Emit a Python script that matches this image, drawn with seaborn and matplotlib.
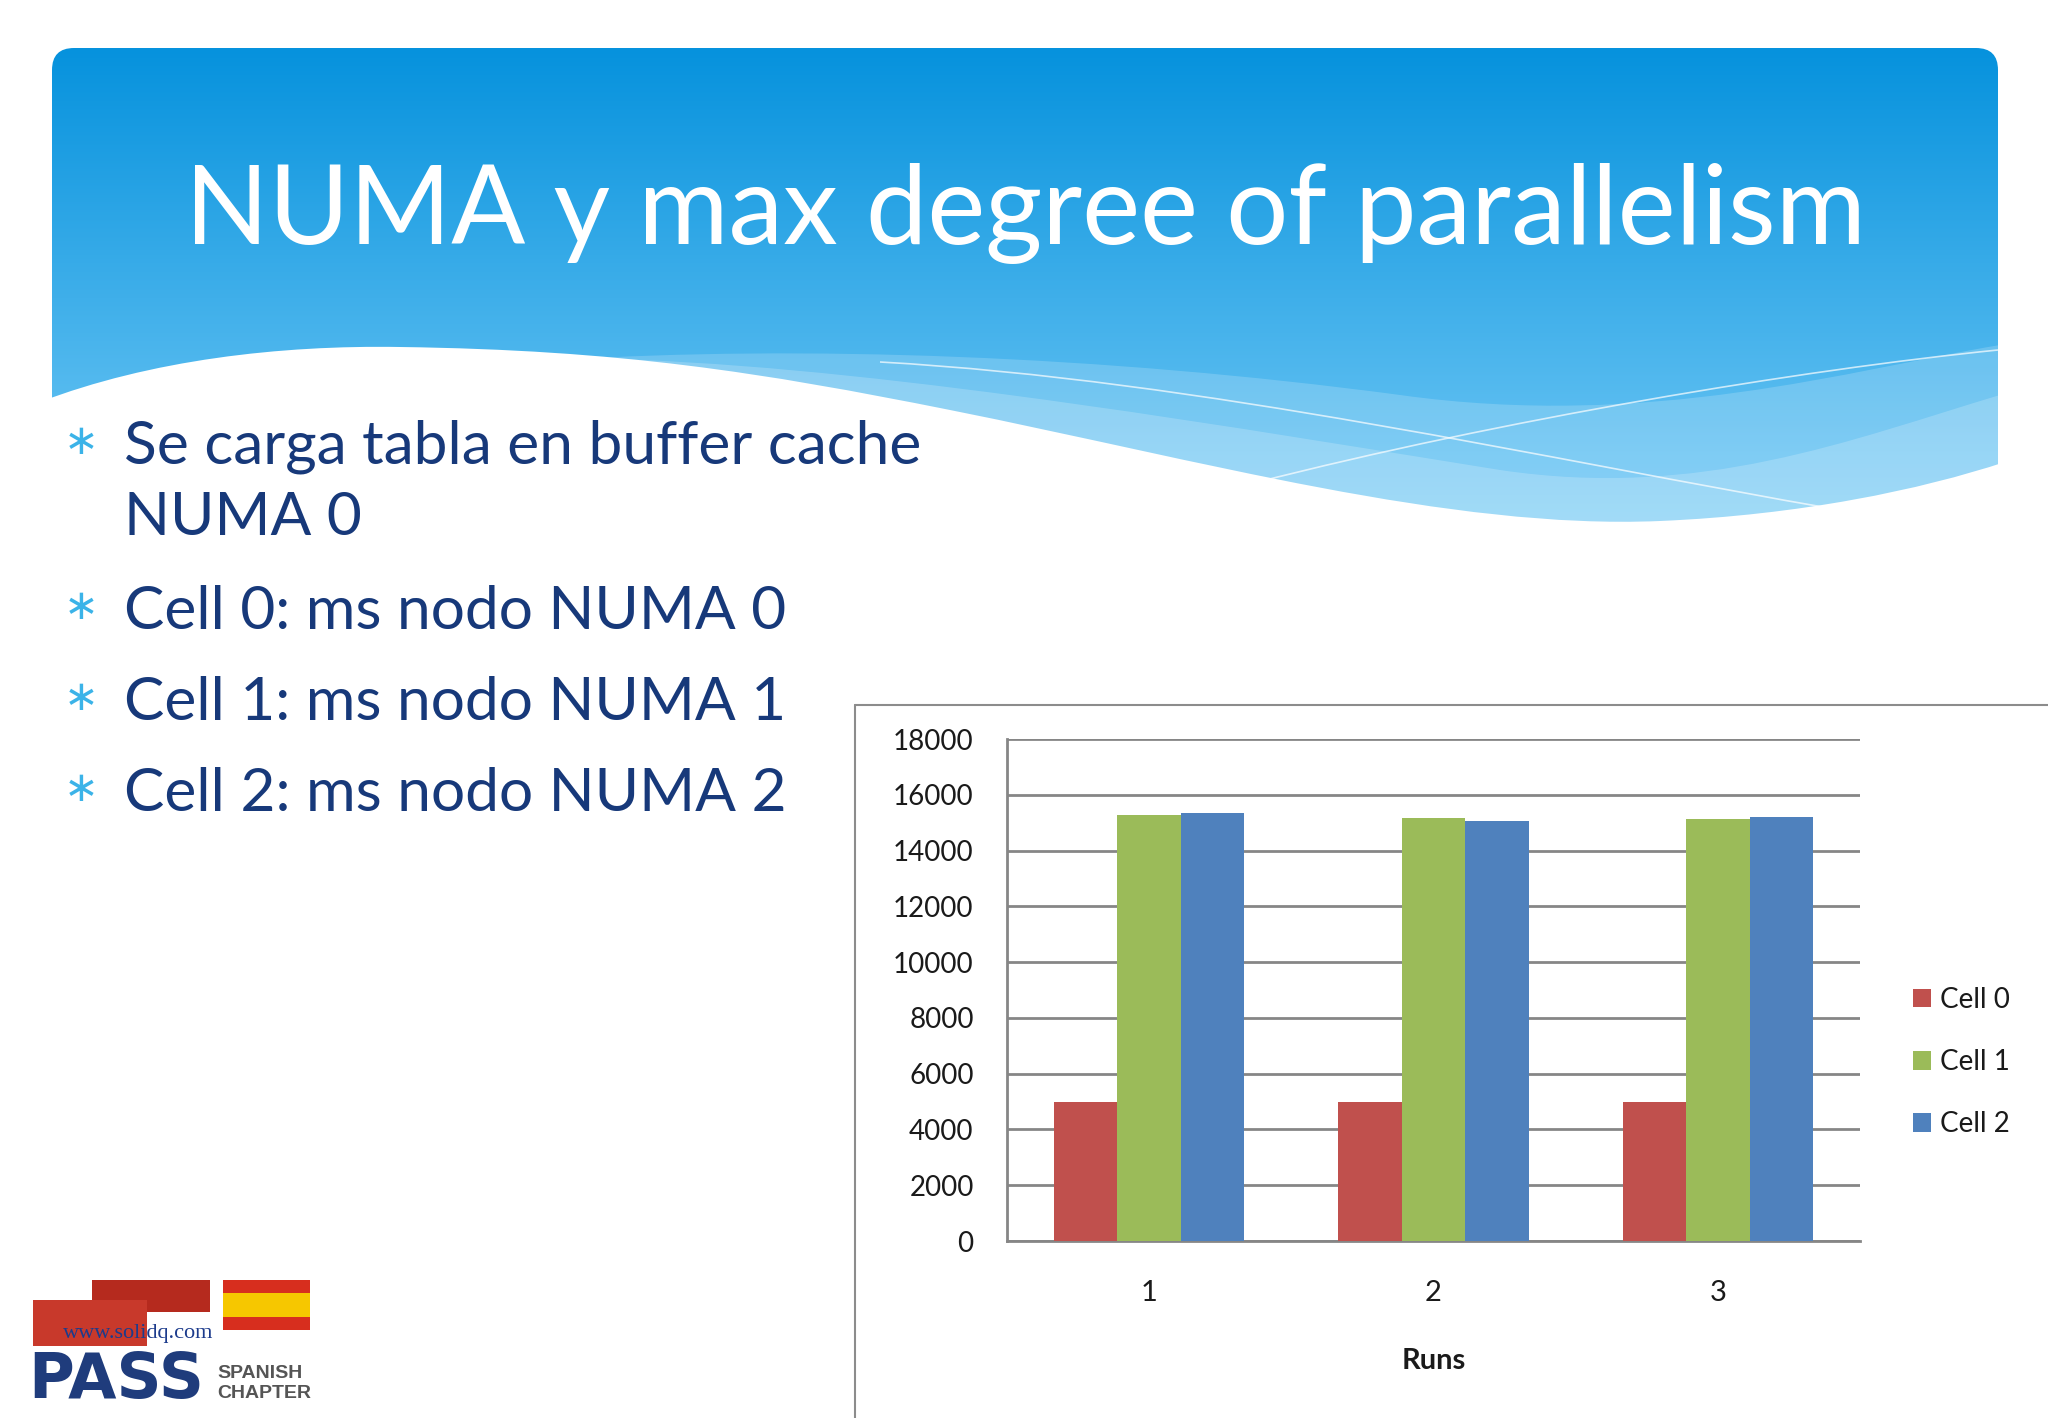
import numpy as np
import pandas as pd
import matplotlib
matplotlib.use("Agg")
import matplotlib.pyplot as plt
from matplotlib.path import Path
from matplotlib.patches import PathPatch, Rectangle, FancyBboxPatch
import seaborn as sns

# ---------------- data ----------------
runs = ["1", "2", "3"]
series_names = ["Cell 0", "Cell 1", "Cell 2"]
cell0 = [5000, 5000, 5000]
cell1 = [15280, 15170, 15120]
cell2 = [15350, 15050, 15190]
y_ticks = [0, 2000, 4000, 6000, 8000, 10000, 12000, 14000, 16000, 18000]
x_label = "Runs"
title = "NUMA y max degree of parallelism"
bullets = [
    ("Se carga tabla en buffer cache", True),
    ("NUMA 0", False),
    ("Cell 0: ms nodo NUMA 0", True),
    ("Cell 1: ms nodo NUMA 1", True),
    ("Cell 2: ms nodo NUMA 2", True),
]
colors = ["#C0504D", "#9BBB59", "#4F81BD"]

df = pd.DataFrame({
    "Runs": runs * 3,
    "Cell": [series_names[0]] * 3 + [series_names[1]] * 3 + [series_names[2]] * 3,
    "Value": cell0 + cell1 + cell2,
})

sns.set_theme(style="white")
plt.rcParams['font.family'] = ['Lato', 'DejaVu Sans']

W, H = 2048, 1418
fig = plt.figure(figsize=(W / 100, H / 100), dpi=100)
fig.patch.set_facecolor("white")

# ---------------- slide background ----------------
bg = fig.add_axes([0, 0, 1, 1], zorder=0)
bg.set_xlim(0, W)
bg.set_ylim(H, 0)
bg.axis("off")

top_c = np.array([6, 146, 221]) / 255
bot_c = np.array([120, 204, 247]) / 255
t = np.linspace(0, 1, 256)[:, None]
grad = (top_c[None, :] * (1 - t) + bot_c[None, :] * t)[:, None, :]
hdr = FancyBboxPatch((52, 48), 1946, 500, boxstyle="round,pad=0,rounding_size=22",
                     transform=bg.transData, facecolor="none", edgecolor="none")
bg.add_patch(hdr)
im = bg.imshow(grad, extent=[52, 1998, 548, 48], aspect="auto", origin="upper", zorder=1)
im.set_clip_path(hdr)

def bez(pts_codes):
    verts = [p for p, c in pts_codes]
    codes = [c for p, c in pts_codes]
    return Path(verts, codes)

M, C4, L, CL = Path.MOVETO, Path.CURVE4, Path.LINETO, Path.CLOSEPOLY

# light translucent bands
band1 = bez([
    ((560, 360), M),
    ((800, 345), C4), ((1100, 355), C4), ((1400, 395), C4),
    ((1650, 430), C4), ((1850, 370), C4), ((2000, 345), C4),
    ((2000, 560), L), ((560, 560), L), ((560, 360), CL),
])
bg.add_patch(PathPatch(band1, facecolor="white", edgecolor="none", alpha=0.18, zorder=2))
band2 = bez([
    ((640, 360), M),
    ((900, 370), C4), ((1250, 430), C4), ((1500, 470), C4),
    ((1700, 500), C4), ((1850, 440), C4), ((2000, 395), C4),
    ((2000, 560), L), ((640, 560), L), ((640, 360), CL),
])
bg.add_patch(PathPatch(band2, facecolor="white", edgecolor="none", alpha=0.2, zorder=2))

# white wave region
wave = bez([
    ((40, 402), M),
    ((150, 360), C4), ((280, 345), C4), ((400, 347), C4),
    ((620, 350), C4), ((760, 372), C4), ((950, 410), C4),
    ((1200, 460), C4), ((1450, 530), C4), ((1660, 521), C4),
    ((1800, 515), C4), ((1920, 490), C4), ((2005, 462), C4),
    ((2010, 600), L), ((40, 600), L), ((40, 402), CL),
])
bg.add_patch(PathPatch(wave, facecolor="white", edgecolor="none", zorder=3))

# thin light lines
ln1 = bez([((1254, 483), M), ((1500, 420), C4), ((1800, 370), C4), ((1998, 350), C4)])
ln2 = bez([((880, 362), M), ((1200, 380), C4), ((1550, 460), C4), ((1840, 510), C4)])
for p in (ln1, ln2):
    bg.add_patch(PathPatch(p, facecolor="none", edgecolor="white", lw=1.2, alpha=0.7, zorder=2.5))

# title
bg.text(1025, 244, title, color="white", fontsize=79, ha="center", va="baseline",
        family=["Lato", "DejaVu Sans"], zorder=5)

# bullets
base_y = [464, 535, 629, 720, 811]
for (txt, has_bullet), by in zip(bullets, base_y):
    if has_bullet:
        bg.text(81, by - 22, "\u2217", color="#3BB3E8", fontsize=30, ha="center", va="center",
                family=["DejaVu Sans"], zorder=5)
    bg.text(124, by, txt, color="#17397A", fontsize=43.5, ha="left", va="baseline", zorder=5)

# chart frame
bg.add_patch(Rectangle((855, 705), W - 855, H - 705, facecolor="white", edgecolor="none", zorder=3))
bg.plot([855, 855], [H, 705], color="#8C8C8C", lw=1.5, zorder=4)
bg.plot([855, W], [705, 705], color="#8C8C8C", lw=1.5, zorder=4)

# logo (PASS Spanish Chapter)
bg.add_patch(Rectangle((92, 1280), 118, 32, facecolor="#B52A1E", edgecolor="none", zorder=4))
bg.add_patch(Rectangle((33, 1300), 114, 46, facecolor="#C8392B", edgecolor="none", zorder=4))
bg.add_patch(Rectangle((223, 1280), 87, 50, facecolor="#D72E1E", edgecolor="none", zorder=4))
bg.add_patch(Rectangle((223, 1293), 87, 24, facecolor="#F6C700", edgecolor="none", zorder=4))
bg.text(63, 1338, "www.solidq.com", color="#1C3B8C", fontsize=16, ha="left", va="baseline",
        family=["Liberation Serif", "DejaVu Serif"], zorder=6)
bg.text(28, 1398, "PASS", color="#1F3C7C", fontsize=45, fontweight="bold", ha="left",
        va="baseline", family=["DejaVu Sans"], zorder=6)
bg.text(217, 1378, "SPANISH", color="#555555", fontsize=14, fontweight="bold", ha="left",
        va="baseline", family=["Liberation Sans", "DejaVu Sans"], zorder=6)
bg.text(217, 1398, "CHAPTER", color="#555555", fontsize=14, fontweight="bold", ha="left",
        va="baseline", family=["Liberation Sans", "DejaVu Sans"], zorder=6)

# ---------------- bar chart ----------------
ax = fig.add_axes([1007 / W, 1 - 1241 / H, (1860 - 1007) / W, (1241 - 739) / H], zorder=2)
ax.set_facecolor("none")
sns.barplot(data=df, x="Runs", y="Value", hue="Cell", palette=colors, width=0.67, gap=0,
            saturation=1, ax=ax, zorder=3, edgecolor="none", linewidth=0)
ax.set_xlim(-0.5, 2.5)
ax.set_ylim(0, 18000)
ax.set_yticks(y_ticks)
ax.set_yticklabels([str(v) for v in y_ticks])
ax.yaxis.grid(True, color="#868686", lw=2)
ax.xaxis.grid(False)
ax.set_axisbelow(True)
for s in ("top", "right"):
    ax.spines[s].set_visible(False)
for s in ("left", "bottom"):
    ax.spines[s].set_color("#868686")
    ax.spines[s].set_linewidth(2)
ax.set_xticks([-0.5, 0.5, 1.5, 2.5], minor=True)
ax.tick_params(axis="x", which="major", length=0, pad=28, labelsize=21, labelcolor="#1A1A1A")
ax.tick_params(axis="x", which="minor", length=9, width=1.5, color="#868686", direction="out")
ax.tick_params(axis="y", length=5, width=1.5, color="#868686", direction="out", pad=19,
               labelsize=20, labelcolor="#1A1A1A")
ax.set_xlabel(x_label, fontsize=21, fontweight="bold", labelpad=30, color="#1A1A1A")
ax.set_ylabel("")

handles, labels = ax.get_legend_handles_labels()
ax.legend(handles, labels, loc="center left", bbox_to_anchor=(1913 / W, 1 - 1062 / H),
          bbox_transform=fig.transFigure, frameon=False, fontsize=20, handlelength=0.65,
          handleheight=0.65, handletextpad=0.33, labelspacing=1.3, borderpad=0, borderaxespad=0)
for txt in ax.get_legend().get_texts():
    txt.set_color("#1A1A1A")

fig.savefig("out.png", dpi=100)
